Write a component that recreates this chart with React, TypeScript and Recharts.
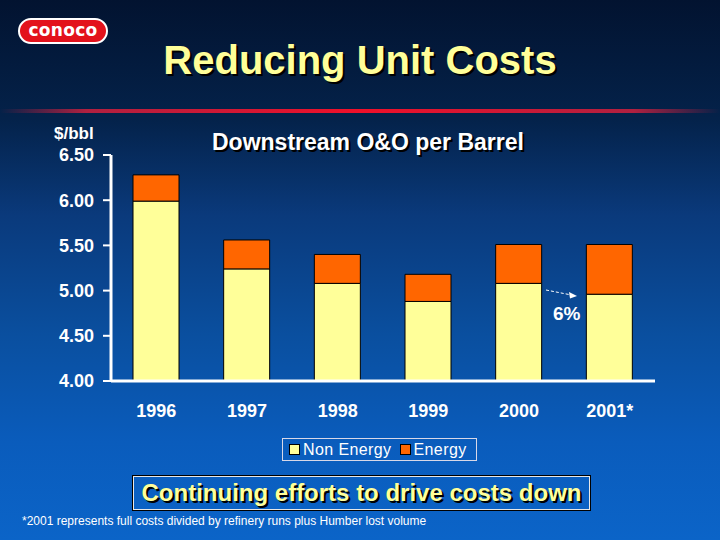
import React from 'react';
import { BarChart, Bar, XAxis, YAxis } from 'recharts';

const years = ['1996', '1997', '1998', '1999', '2000', '2001*'];
const nonEnergy = [5.99, 5.24, 5.08, 4.88, 5.08, 4.96];
const energy = [0.29, 0.32, 0.32, 0.30, 0.43, 0.55];
const yTicks = [4.0, 4.5, 5.0, 5.5, 6.0, 6.5];

const data = years.map((year, i) => ({
  year,
  nonEnergy: nonEnergy[i],
  energy: energy[i],
}));

const FONT = 'Arial, "Liberation Sans", Helvetica, sans-serif';
const YELLOW = '#FFFF99';
const ORANGE = '#FF6600';

export default function App() {
  return (
    <div
      style={{
        position: 'absolute',
        left: 0,
        top: 0,
        width: 720,
        height: 540,
        overflow: 'hidden',
        fontFamily: FONT,
        background:
          'linear-gradient(to bottom, #021330 0%, #04224a 22%, #0a3a7c 40%, #0a4f9f 62%, #0a5cbc 82%, #0b64c8 100%)',
      }}
    >
      {/* logo */}
      <div
        style={{
          position: 'absolute',
          left: 18,
          top: 18,
          width: 86,
          height: 22,
          borderRadius: 13,
          border: '2px solid #fff',
          background: '#E3121B',
          color: '#fff',
          fontFamily: '"DejaVu Sans", sans-serif',
          fontWeight: 700,
          fontSize: 17,
          lineHeight: '21px',
          textAlign: 'center',
          letterSpacing: 0.3,
        }}
      >
        conoco
      </div>

      {/* title */}
      <div
        style={{
          position: 'absolute',
          left: 0,
          width: 720,
          top: 37,
          textAlign: 'center',
          color: YELLOW,
          fontWeight: 700,
          fontSize: 40,
          lineHeight: '46px',
          textShadow: '2px 2px 0 #000',
        }}
      >
        Reducing Unit Costs
      </div>

      {/* red rule */}
      <div
        style={{
          position: 'absolute',
          left: 0,
          top: 109,
          width: 720,
          height: 4,
          background:
            'linear-gradient(to right, rgba(230,20,40,0) 0%, #b02040 12%, #f0102a 50%, #b02040 88%, rgba(230,20,40,0) 100%)',
        }}
      />

      <div
        style={{
          position: 'absolute',
          left: 54,
          top: 124,
          color: '#fff',
          fontWeight: 700,
          fontSize: 17,
        }}
      >
        $/bbl
      </div>

      <div
        style={{
          position: 'absolute',
          left: 212,
          top: 129,
          color: '#fff',
          fontWeight: 700,
          fontSize: 23,
          textShadow: '2px 2px 0 #000',
        }}
      >
        Downstream O&amp;O per Barrel
      </div>

      <div style={{ position: 'absolute', left: 0, top: 0 }}>
        <BarChart
          width={720}
          height={540}
          data={data}
          margin={{ top: 155, right: 65, left: 0, bottom: 119 }}
          barSize={46}
        >
          <XAxis
            dataKey="year"
            axisLine={{ stroke: '#fff', strokeWidth: 3 }}
            tickLine={false}
            tickSize={0}
            tickMargin={23}
            height={40}
            tick={{ fill: '#fff', fontSize: 18, fontWeight: 700, fontFamily: FONT }}
          />
          <YAxis
            width={111}
            domain={[4, 6.5]}
            ticks={yTicks}
            allowDataOverflow
            interval={0}
            axisLine={{ stroke: '#fff', strokeWidth: 3 }}
            tickLine={{ stroke: '#fff', strokeWidth: 2 }}
            tickSize={8}
            tickMargin={9}
            tickFormatter={(v: number) => v.toFixed(2)}
            tick={{ fill: '#fff', fontSize: 18, fontWeight: 700, fontFamily: FONT }}
          />
          <Bar
            dataKey="nonEnergy"
            name="Non Energy"
            stackId="a"
            fill={YELLOW}
            stroke="#000"
            strokeWidth={1}
            isAnimationActive={false}
          />
          <Bar
            dataKey="energy"
            name="Energy"
            stackId="a"
            fill={ORANGE}
            stroke="#000"
            strokeWidth={1}
            isAnimationActive={false}
          />
        </BarChart>
      </div>

      {/* 6% annotation */}
      <svg style={{ position: 'absolute', left: 0, top: 0 }} width={720} height={540}>
        <line x1={546} y1={290} x2={574} y2={295.5} stroke="#fff" strokeWidth={1} strokeDasharray="3 2" />
        <polygon points="577,296 569,292 570,298.5" fill="#fff" />
        <text x={553} y={320} fill="#fff" fontSize={19} fontWeight={700} fontFamily={FONT}>
          6%
        </text>
      </svg>

      {/* legend */}
      <div
        style={{
          position: 'absolute',
          left: 282,
          top: 438,
          width: 195,
          height: 23,
          border: '1px solid #d8d8e8',
          color: '#fff',
          fontSize: 16,
          lineHeight: '22px',
          display: 'flex',
          alignItems: 'center',
          paddingLeft: 6,
          boxSizing: 'border-box',
          whiteSpace: 'nowrap',
        }}
      >
        <span style={{ width: 9, height: 9, background: YELLOW, border: '1px solid #000', marginRight: 3 }} />
        <span style={{ letterSpacing: 0.4 }}>Non Energy</span>
        <span style={{ width: 9, height: 9, background: ORANGE, border: '1px solid #000', marginLeft: 8, marginRight: 3 }} />
        <span style={{ letterSpacing: 0.4 }}>Energy</span>
      </div>

      {/* callout box */}
      <div
        style={{
          position: 'absolute',
          left: 133,
          top: 476,
          width: 457,
          height: 34,
          boxSizing: 'border-box',
          border: '1px solid #e8e8e8',
          outline: '1px solid #000',
          color: YELLOW,
          fontWeight: 700,
          fontSize: 24,
          lineHeight: '31px',
          textAlign: 'center',
          textShadow: '2px 2px 0 #000',
          whiteSpace: 'nowrap',
        }}
      >
        Continuing efforts to drive costs down
      </div>

      <div
        style={{
          position: 'absolute',
          left: 22,
          top: 514,
          color: '#fff',
          fontSize: 12,
          whiteSpace: 'nowrap',
        }}
      >
        *2001 represents full costs divided by refinery runs plus Humber lost volume
      </div>
    </div>
  );
}
